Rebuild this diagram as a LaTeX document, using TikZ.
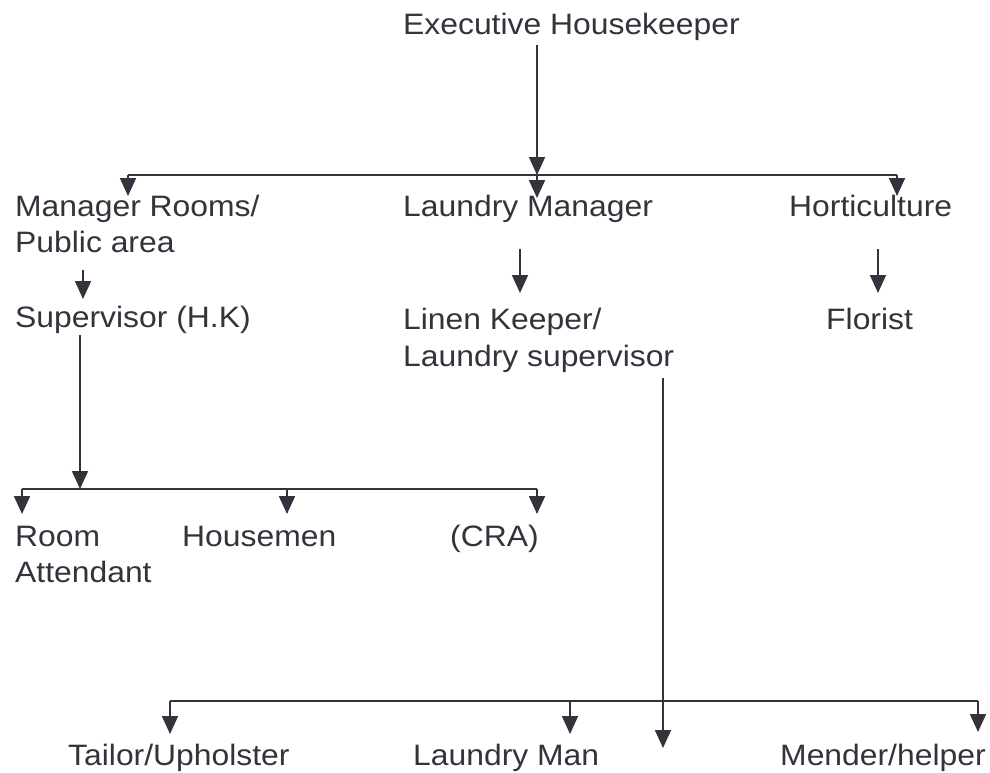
\documentclass[tikz,border=0pt]{standalone}
\usepackage{fontspec}
\setmainfont{Liberation Sans}[FakeStretch=1.08]
\usetikzlibrary{arrows.meta}
\definecolor{ink}{HTML}{33333C}
\begin{document}
\begin{tikzpicture}[x=1pt,y=-1pt,
  lbl/.style={anchor=base west,inner sep=0pt,text=ink,font=\fontsize{29.5}{36}\selectfont},
  conn/.style={draw=ink,line width=1.8pt},
  arr/.style={conn,-{Triangle[width=16pt,length=18pt]}}]
\fill[white] (0,0) rectangle (990,772);
\useasboundingbox (0,0) rectangle (990,772);
% labels
\node[lbl] (exec) at (403,34) {Executive Housekeeper};
\node[lbl] (mgr) at (15,216) {Manager Rooms/};
\node[lbl] (mgrb) at (15,252) {Public area};
\node[lbl] (lm) at (403,216) {Laundry Manager};
\node[lbl] (hort) at (789,216) {Horticulture};
\node[lbl] (sup) at (15,327) {Supervisor (H.K)};
\node[lbl] (lk) at (403,329) {Linen Keeper/};
\node[lbl] (lkb) at (403,366) {Laundry supervisor};
\node[lbl] (flor) at (826,329) {Florist};
\node[lbl] (room) at (15,546) {Room};
\node[lbl] (roomb) at (15,582) {Attendant};
\node[lbl] (hm) at (182,546) {Housemen};
\node[lbl] (cra) at (450,546) {(CRA)};
\node[lbl] (tail) at (68,765) {Tailor/Upholster};
\node[lbl] (lman) at (413,765) {Laundry Man};
\node[lbl] (mend) at (780,765) {Mender/helper};
% junction coordinates
\coordinate (e0) at (537,45);
\coordinate (j1) at (537,175);
\coordinate (j1l) at (128,175);
\coordinate (j1r) at (897,175);
\coordinate (t1l) at (128,196);
\coordinate (t1m) at (537,198);
\coordinate (t1r) at (897,196);
\coordinate (m0) at (83,270);
\coordinate (m1) at (83,299);
\coordinate (l0) at (520,249);
\coordinate (l1) at (520,293);
\coordinate (h0) at (878,249);
\coordinate (h1) at (878,293);
\coordinate (s0) at (80,335);
\coordinate (j2) at (80,489);
\coordinate (j2l) at (22,489);
\coordinate (j2r) at (537,489);
\coordinate (t2l) at (22,514);
\coordinate (t2m) at (287,514);
\coordinate (t2r) at (537,514);
\coordinate (k0) at (663,378);
\coordinate (k1) at (663,748);
\coordinate (j3l) at (170,701);
\coordinate (j3r) at (978,701);
\coordinate (t3l) at (170,734);
\coordinate (t3m) at (570,734);
\coordinate (t3r) at (978,732);
% connectors
\draw[arr] (e0) -- (j1);
\draw[conn] (j1l) -- (j1r);
\draw[arr] (j1l) -- (t1l);
\draw[arr] (j1) -- (t1m);
\draw[arr] (j1r) -- (t1r);
\draw[arr] (m0) -- (m1);
\draw[arr] (l0) -- (l1);
\draw[arr] (h0) -- (h1);
\draw[arr] (s0) -- (j2);
\draw[conn] (j2l) -- (j2r);
\draw[arr] (j2l) -- (t2l);
\draw[arr] (t2m |- j2) -- (t2m);
\draw[arr] (j2r) -- (t2r);
\draw[arr] (k0) -- (k1);
\draw[conn] (j3l) -- (j3r);
\draw[arr] (j3l) -- (t3l);
\draw[arr] (t3m |- j3l) -- (t3m);
\draw[arr] (j3r) -- (t3r);
\end{tikzpicture}
\end{document}
